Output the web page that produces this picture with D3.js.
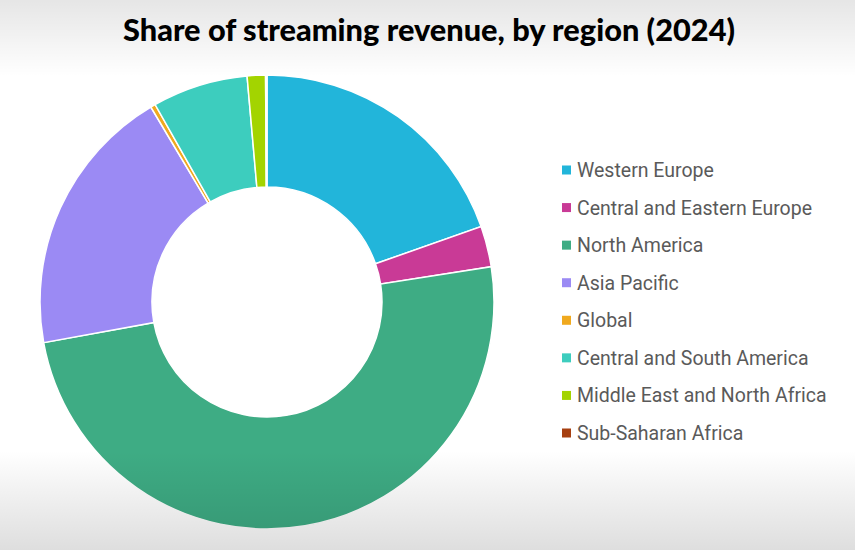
<!DOCTYPE html>
<html><head><meta charset="utf-8">
<script src="https://cdn.jsdelivr.net/npm/d3@7"></script>
<style>html,body{margin:0;padding:0;background:#fff;}svg{display:block;}</style>
</head><body>
<svg id="chart" width="855" height="550"></svg>
<script>
const title = "Share of streaming revenue, by region (2024)";
const categories = ["Western Europe","Central and Eastern Europe","North America","Asia Pacific","Global","Central and South America","Middle East and North Africa","Sub-Saharan Africa"];
const values = [19.6, 2.9, 49.6, 19.3, 0.35, 6.8, 1.3, 0.1];
const colors = ["#22b5da","#c93a96","#3eac84","#9b8af4","#f0a91e","#3dcdbe","#a3d400","#a63f10"];

const svg = d3.select("#chart");
const W = 855, H = 550;
const defs = svg.append("defs");
const g1 = defs.append("linearGradient").attr("id","shade").attr("x1",0).attr("y1",0).attr("x2",0).attr("y2",1);
g1.append("stop").attr("offset","0").attr("stop-color","#000").attr("stop-opacity",0.1);
g1.append("stop").attr("offset","0.14").attr("stop-color","#000").attr("stop-opacity",0.0);
g1.append("stop").attr("offset","0.82").attr("stop-color","#000").attr("stop-opacity",0.0);
g1.append("stop").attr("offset","1").attr("stop-color","#000").attr("stop-opacity",0.13);

svg.append("rect").attr("width",W).attr("height",H).attr("fill","#fff");

svg.append("text").attr("x",123).attr("y",41).attr("text-anchor","start")
  .attr("font-family","Lato, 'Open Sans', sans-serif").attr("font-weight",900)
  .attr("font-size",30).attr("fill","#000")
  .attr("textLength",612).attr("lengthAdjust","spacingAndGlyphs").text(title);

const cx = 267, cy = 302, rOuter = 227, rInner = 115;
const color = d3.scaleOrdinal().domain(categories).range(colors);
const data = categories.map((c,i)=>({name:c, value:values[i]}));
const pie = d3.pie().value(d=>d.value).sort(null);
const arc = d3.arc().innerRadius(rInner).outerRadius(rOuter);
svg.append("g").attr("transform",`translate(${cx},${cy})`)
  .selectAll("path").data(pie(data)).join("path")
  .attr("d",arc).attr("fill",d=>color(d.data.name))
  .attr("stroke","#fff").attr("stroke-width",1.5);

const legY = d3.scalePoint().domain(categories).range([170,433]);
const leg = svg.append("g").selectAll("g").data(categories).join("g")
  .attr("transform",d=>`translate(562,${legY(d)})`);
leg.append("rect").attr("x",0).attr("y",-4.5).attr("width",9).attr("height",9).attr("fill",d=>color(d));
leg.append("text").attr("x",15).attr("y",0).attr("dy","0.36em")
  .attr("font-family","Roboto, sans-serif").attr("font-size",19.5).attr("fill","#5a5a5a").text(d=>d);

svg.append("rect").attr("width",W).attr("height",H).attr("fill","url(#shade)").attr("pointer-events","none");
</script>
</body></html>
